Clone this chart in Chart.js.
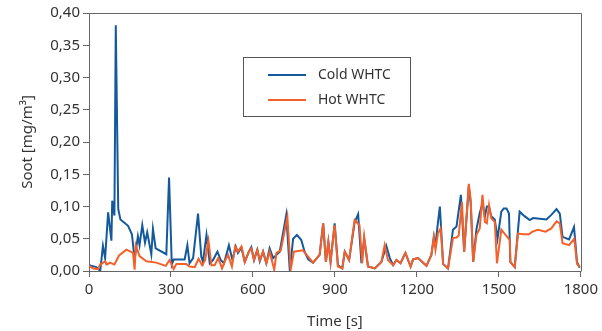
<!DOCTYPE html>
<html lang="en">
<head>
<meta charset="UTF-8">
<title>Soot - Cold vs Hot WHTC</title>
<script src="https://cdn.jsdelivr.net/npm/chart.js"></script>
<style>
  html, body { margin: 0; padding: 0; background: #fff; }
  #wrap { position: relative; width: 602px; height: 331px; }
</style>
</head>
<body>
<div id="wrap"><canvas id="sootChart" width="602" height="331"></canvas></div>

<script>
// Cold WHTC (blue)
const coldTime = [0, 27, 41, 51, 59, 70, 82, 85, 93, 98, 107, 115, 143, 157, 167, 179, 185, 195, 205, 213,
  228, 234, 244, 283, 293, 303, 310, 350, 360, 368, 381, 399, 411, 417, 430, 442, 454, 470, 482, 494,
  512, 525, 537, 545, 558, 570, 585, 594, 604, 616, 625, 637, 649, 661, 674, 686, 698, 722, 735, 747,
  761, 777, 789, 802, 820, 844, 857, 867, 876, 884, 899, 911, 927, 936, 952, 972, 985, 997, 1007, 1021,
  1046, 1070, 1088, 1101, 1113, 1125, 1140, 1158, 1177, 1186, 1204, 1235, 1253, 1262, 1268, 1277, 1284, 1296, 1314, 1332,
  1345, 1361, 1373, 1390, 1397, 1406, 1418, 1430, 1440, 1449, 1456, 1464, 1472, 1485, 1495, 1509, 1518, 1528, 1537, 1542,
  1558, 1576, 1594, 1613, 1625, 1650, 1674, 1692, 1711, 1723, 1733, 1757, 1775, 1786, 1796];
const coldSoot = [0.009, 0.006, 0.0, 0.039, 0.02, 0.091, 0.047, 0.109, 0.086, 0.381, 0.096, 0.08, 0.07, 0.057, 0.018, 0.054, 0.04, 0.071, 0.044, 0.06,
  0.026, 0.065, 0.035, 0.026, 0.145, 0.01, 0.018, 0.018, 0.04, 0.012, 0.02, 0.089, 0.022, 0.014, 0.056, 0.012, 0.017, 0.03, 0.017, 0.012,
  0.04, 0.017, 0.038, 0.028, 0.036, 0.014, 0.03, 0.037, 0.017, 0.033, 0.015, 0.03, 0.012, 0.035, 0.02, 0.025, 0.03, 0.087, 0.0, 0.05,
  0.056, 0.048, 0.03, 0.018, 0.013, 0.025, 0.074, 0.014, 0.045, 0.014, 0.074, 0.009, 0.004, 0.03, 0.017, 0.075, 0.088, 0.012, 0.05, 0.007,
  0.004, 0.014, 0.039, 0.02, 0.009, 0.017, 0.012, 0.028, 0.007, 0.018, 0.02, 0.008, 0.025, 0.053, 0.04, 0.075, 0.1, 0.011, 0.004, 0.064,
  0.069, 0.118, 0.03, 0.132, 0.105, 0.014, 0.065, 0.09, 0.105, 0.085, 0.1, 0.1, 0.085, 0.08, 0.05, 0.092, 0.097, 0.097, 0.089, 0.014,
  0.006, 0.092, 0.085, 0.079, 0.082, 0.081, 0.08, 0.087, 0.096, 0.089, 0.053, 0.049, 0.068, 0.014, 0.005];

// Hot WHTC (orange)
const hotTime = [0, 15, 33, 41, 59, 66, 76, 93, 110, 137, 161, 167, 171, 185, 210, 246, 281, 295, 310, 320,
  356, 368, 387, 401, 414, 425, 437, 448, 460, 473, 487, 499, 509, 523, 535, 545, 558, 570, 585, 594,
  604, 616, 625, 637, 649, 661, 678, 686, 702, 726, 738, 750, 783, 820, 844, 857, 867, 876, 884, 899,
  911, 927, 936, 952, 972, 990, 1000, 1007, 1021, 1046, 1070, 1082, 1094, 1113, 1125, 1140, 1158, 1177, 1186, 1204,
  1235, 1253, 1262, 1268, 1277, 1287, 1296, 1314, 1332, 1345, 1353, 1365, 1373, 1390, 1397, 1406, 1418, 1430, 1440, 1449,
  1456, 1464, 1472, 1485, 1493, 1509, 1540, 1542, 1558, 1570, 1589, 1610, 1623, 1643, 1671, 1692, 1711, 1723, 1733, 1757,
  1776, 1786, 1796];
const hotSoot = [0.008, 0.004, 0.003, 0.01, 0.015, 0.01, 0.013, 0.01, 0.024, 0.033, 0.028, 0.002, 0.04, 0.023, 0.015, 0.013, 0.008, 0.017, 0.003, 0.011,
  0.011, 0.007, 0.006, 0.019, 0.009, 0.017, 0.047, 0.009, 0.009, 0.02, 0.004, 0.017, 0.025, 0.007, 0.038, 0.03, 0.038, 0.014, 0.03, 0.035,
  0.017, 0.033, 0.017, 0.03, 0.012, 0.03, 0.002, 0.028, 0.032, 0.084, 0.002, 0.03, 0.032, 0.013, 0.025, 0.074, 0.014, 0.045, 0.014, 0.071,
  0.007, 0.004, 0.03, 0.017, 0.079, 0.071, 0.012, 0.053, 0.007, 0.004, 0.014, 0.04, 0.017, 0.009, 0.017, 0.012, 0.028, 0.007, 0.018, 0.02,
  0.008, 0.025, 0.053, 0.033, 0.058, 0.066, 0.011, 0.004, 0.051, 0.052, 0.055, 0.107, 0.03, 0.135, 0.11, 0.014, 0.056, 0.066, 0.118, 0.076,
  0.074, 0.102, 0.082, 0.076, 0.012, 0.064, 0.048, 0.014, 0.006, 0.058, 0.057, 0.057, 0.061, 0.064, 0.061, 0.066, 0.077, 0.074, 0.043, 0.04,
  0.05, 0.011, 0.006];

const seriesNames = ['Cold WHTC', 'Hot WHTC'];
const seriesColors = ['#14599b', '#f4602a'];

const toPoints = (xs, ys) => xs.map((x, i) => ({ x: x, y: ys[i] }));

const textColor = '#333';
const axisColor = '#666';
const font = { family: '"Noto Sans", sans-serif', size: 15 };

// frame on top/right + legend box inside the plot
const framePlugin = {
  id: 'frameAndLegend',
  afterDraw(chart) {
    const { ctx, chartArea: a } = chart;
    ctx.save();
    ctx.strokeStyle = axisColor;
    ctx.lineWidth = 1;
    ctx.beginPath();
    ctx.moveTo(Math.round(a.left) + 0.5, Math.round(a.top) + 0.5);
    ctx.lineTo(Math.round(a.right) + 0.5, Math.round(a.top) + 0.5);
    ctx.lineTo(Math.round(a.right) + 0.5, Math.round(a.bottom) + 0.5);
    ctx.stroke();

    // legend
    ctx.strokeStyle = '#555';
    ctx.strokeRect(243.5, 57.5, 167, 59);
    ctx.font = '14px "Noto Sans", sans-serif';
    ctx.textBaseline = 'middle';
    ctx.fillStyle = textColor;
    const rows = [75, 100];
    seriesNames.forEach((name, i) => {
      ctx.strokeStyle = seriesColors[i];
      ctx.lineWidth = 2;
      ctx.beginPath();
      ctx.moveTo(268, rows[i]);
      ctx.lineTo(306, rows[i]);
      ctx.stroke();
      ctx.fillText(name, 318, rows[i]);
    });
    ctx.restore();
  }
};

new Chart(document.getElementById('sootChart'), {
  type: 'line',
  data: {
    datasets: [
      { label: seriesNames[0], data: toPoints(coldTime, coldSoot), borderColor: seriesColors[0], order: 1 },
      { label: seriesNames[1], data: toPoints(hotTime, hotSoot), borderColor: seriesColors[1], order: 0 }
    ]
  },
  options: {
    responsive: false,
    animation: false,
    layout: { padding: { top: 13, right: 21, left: 0, bottom: 0 } },
    elements: {
      line: { borderWidth: 2, tension: 0, fill: false },
      point: { radius: 0 }
    },
    plugins: { legend: { display: false }, tooltip: { enabled: false } },
    scales: {
      x: {
        type: 'linear',
        min: 0, max: 1800,
        afterFit(scale) { scale.height = 60; },
        ticks: { stepSize: 300, color: textColor, font: font, padding: 4, maxRotation: 0, callback: v => String(v) },
        grid: { drawOnChartArea: false, drawTicks: true, tickLength: 6, color: axisColor },
        border: { color: axisColor },
        title: { display: true, text: 'Time [s]', color: textColor, font: font, padding: { top: 4, bottom: 0 } }
      },
      y: {
        min: 0, max: 0.4,
        afterFit(scale) { scale.width = 89; },
        ticks: {
          stepSize: 0.05, color: textColor, font: font, padding: 3,
          callback: v => v.toFixed(2).replace('.', ',')
        },
        grid: { drawOnChartArea: false, drawTicks: true, tickLength: 6, color: axisColor },
        border: { color: axisColor },
        title: { display: true, text: 'Soot [mg/m³]', color: textColor, font: font, padding: { top: 19, bottom: 0 } }
      }
    }
  },
  plugins: [framePlugin]
});
</script>
</body>
</html>
